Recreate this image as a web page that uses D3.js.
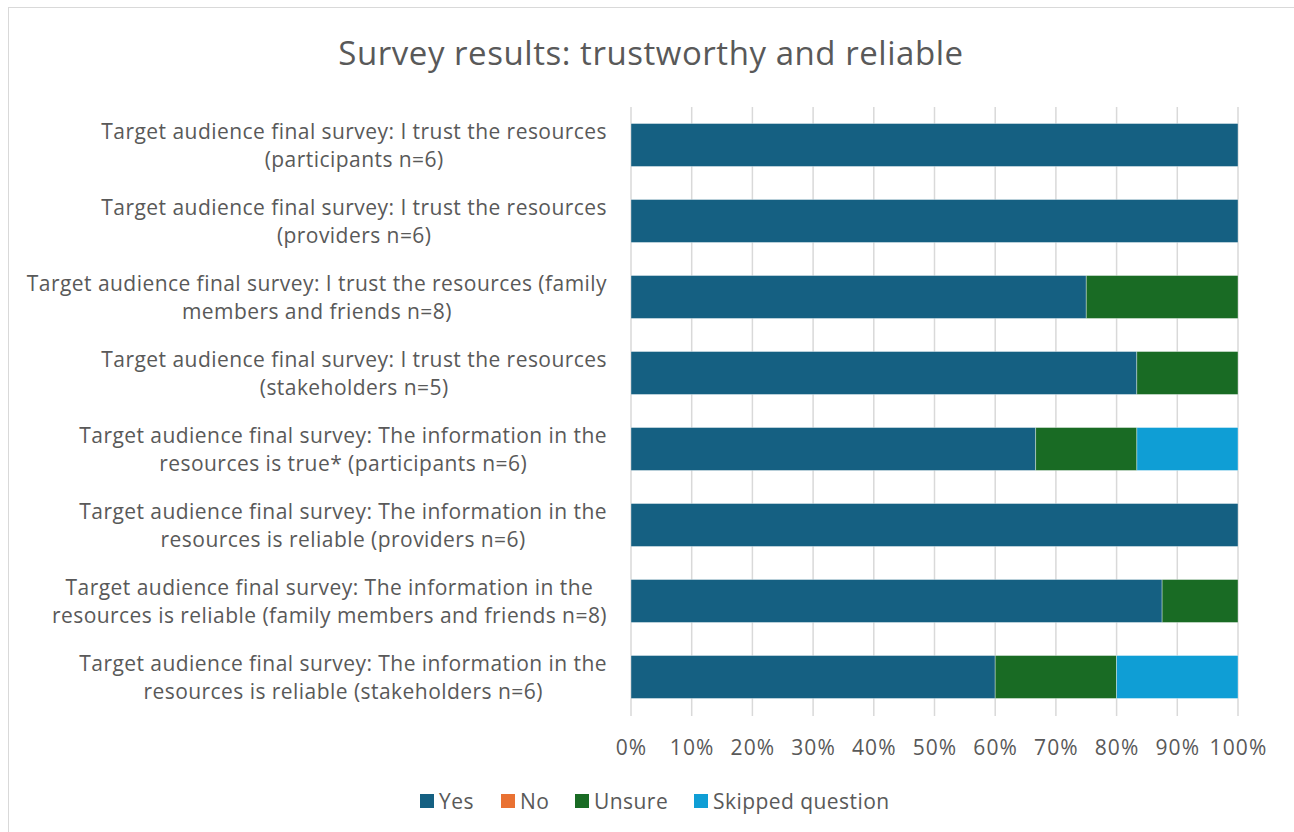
<!DOCTYPE html>
<html><head><meta charset="utf-8">
<script src="https://cdn.jsdelivr.net/npm/d3@7"></script>
<style>body{margin:0;background:#fff;} text{font-family:"Open Sans",sans-serif;fill:#595959;}</style>
</head><body>
<svg id="c" width="1294" height="832"></svg>
<script>
const categories = [
  ["Target audience final survey: I trust the resources", "(participants n=6)"],
  ["Target audience final survey: I trust the resources", "(providers n=6)"],
  ["Target audience final survey: I trust the resources (family", "members and friends n=8)"],
  ["Target audience final survey: I trust the resources", "(stakeholders n=5)"],
  ["Target audience final survey: The information in the", "resources is true* (participants n=6)"],
  ["Target audience final survey: The information in the", "resources is reliable (providers n=6)"],
  ["Target audience final survey: The information in the", "resources is reliable (family members and friends n=8)"],
  ["Target audience final survey: The information in the", "resources is reliable (stakeholders n=6)"]
];
const seriesNames = ["Yes", "No", "Unsure", "Skipped question"];
const seriesColors = ["#156082", "#E97132", "#196B24", "#0F9ED5"];
const yesValues = [100, 100, 75, 83.33, 66.67, 100, 87.5, 60];
const noValues = [0, 0, 0, 0, 0, 0, 0, 0];
const unsureValues = [0, 0, 25, 16.67, 16.67, 0, 12.5, 20];
const skippedValues = [0, 0, 0, 0, 16.66, 0, 0, 20];
const xTicks = [0, 10, 20, 30, 40, 50, 60, 70, 80, 90, 100];
const title = "Survey results: trustworthy and reliable";

(function () {
const svg = d3.select("#c");
svg.append("rect").attr("x", 8.5).attr("y", 7.5).attr("width", 1300).attr("height", 840)
  .attr("fill", "#fff").attr("stroke", "#d9d9d9").attr("stroke-width", 1);

const pLeft = 631, pRight = 1238, pTop = 107, pBottom = 715;
const x = d3.scaleLinear().domain([0, 100]).range([pLeft, pRight]);
const y = d3.scaleBand().domain(d3.range(categories.length)).range([pTop, pBottom]).paddingInner(0.435).paddingOuter(0.2175);

svg.append("text").attr("x", 651).attr("y", 52).attr("text-anchor", "middle")
  .attr("dominant-baseline", "central").style("font-size", "33px").style("letter-spacing", "0.55px").text(title);

const grid = svg.append("g");
grid.selectAll("line").data(xTicks).join("line")
  .attr("x1", d => x(d)).attr("x2", d => x(d)).attr("y1", pTop).attr("y2", pBottom + 1)
  .attr("stroke", "#d9d9d9").attr("stroke-width", 1.5);

const table = categories.map((c, i) => ({ i, "Yes": yesValues[i], "No": noValues[i], "Unsure": unsureValues[i], "Skipped question": skippedValues[i] }));
const stack = d3.stack().keys(seriesNames)(table);
svg.append("g").selectAll("g").data(stack).join("g")
  .attr("fill", (d, k) => seriesColors[k])
  .selectAll("rect").data(d => d.filter(p => p[1] - p[0] > 0)).join("rect")
  .attr("x", d => x(d[0])).attr("width", d => x(d[1]) - x(d[0]))
  .attr("y", d => y(d.data.i)).attr("height", y.bandwidth())
  .attr("stroke", "rgba(255,255,255,0.45)").attr("stroke-width", 0.8);

const xAxis = d3.axisBottom(x).tickValues(xTicks).tickFormat(d => d + "%").tickSize(0).tickPadding(0);
const ga = svg.append("g").attr("transform", `translate(0, 747)`).call(xAxis);
ga.select(".domain").remove();
ga.selectAll("text").attr("dy", null).attr("dominant-baseline", "central")
  .style("font-size", "21px").style("letter-spacing", "1.1px").style("fill", "#595959").style("font-family", "'Open Sans', sans-serif");

const labelRight = 607;
categories.forEach((lines, i) => {
  const cy = y(i) + y.bandwidth() / 2;
  const g = svg.append("g");
  const ts = lines.map((l, j) => g.append("text").attr("y", cy + (j - (lines.length - 1) / 2) * 28)
    .attr("dominant-baseline", "central").attr("text-anchor", "middle")
    .style("font-size", "21px").style("letter-spacing", "0.45px").text(l));
  const maxW = d3.max(ts, t => t.node().getComputedTextLength());
  ts.forEach(t => t.attr("x", labelRight - maxW / 2));
});

const legendItems = [
  { name: "Yes", x: 420 }, { name: "No", x: 501 }, { name: "Unsure", x: 575 }, { name: "Skipped question", x: 694 }
];
const lg = svg.append("g");
legendItems.forEach((it, k) => {
  lg.append("rect").attr("x", it.x).attr("y", 794).attr("width", 14).attr("height", 14).attr("fill", seriesColors[k]);
  lg.append("text").attr("x", it.x + 19).attr("y", 801).attr("dominant-baseline", "central")
    .style("font-size", "21px").style("letter-spacing", "0.45px").text(it.name);
});
})();
</script>
</body></html>
